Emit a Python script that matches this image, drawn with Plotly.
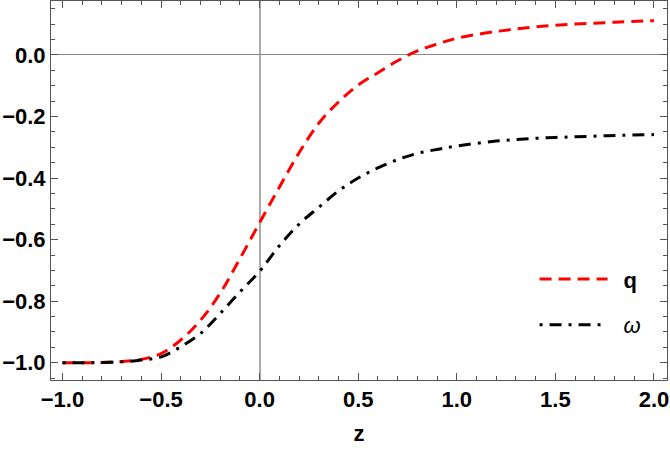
import plotly.graph_objects as go

# values
z = [-1.0, -0.9, -0.8, -0.7, -0.6, -0.5, -0.4, -0.3, -0.2, -0.1, 0.0, 0.1, 0.2,
     0.3, 0.4, 0.5, 0.6, 0.7, 0.8, 0.9, 1.0, 1.2, 1.4, 1.6, 1.8, 2.0]
q = [-1.000, -1.000, -0.999, -0.996, -0.989, -0.970, -0.926, -0.862, -0.774,
     -0.662, -0.545, -0.430, -0.318, -0.222, -0.153, -0.098, -0.058, -0.019,
     0.013, 0.035, 0.054, 0.076, 0.091, 0.100, 0.106, 0.111]
w = [-1.000, -1.000, -0.999, -0.997, -0.991, -0.981, -0.948, -0.905, -0.840,
     -0.770, -0.703, -0.620, -0.550, -0.495, -0.442, -0.400, -0.367, -0.340,
     -0.320, -0.307, -0.296, -0.280, -0.271, -0.266, -0.262, -0.259]

fig = go.Figure()

fig.add_trace(go.Scatter(
    x=z, y=q, mode="lines", name="\u2002<b>q</b>", legendgroup="q",
    line=dict(color="#ff0000", width=3, dash="12px,7px", shape="spline"),
))
fig.add_trace(go.Scatter(
    x=z, y=w, mode="lines", name="\u2002<i>ω</i>", legendgroup="w",
    line=dict(color="#000000", width=3, dash="3px,7px,12px,7px", shape="spline"),
))

frame = dict(
    showline=True, linecolor="#555555", linewidth=1, mirror="allticks",
    ticks="inside", ticklen=7, tickcolor="#555555", tickwidth=1,
    showgrid=False, automargin=False,
    tickfont=dict(family="Liberation Sans", size=22, color="black", weight="bold"),
)

fig.update_xaxes(
    range=[-1.058, 2.066], tick0=-1, dtick=0.5, tickformat=".1f",
    zeroline=True, zerolinecolor="#aaaaaa", zerolinewidth=1.5,
    minor=dict(ticks="inside", ticklen=4, dtick=0.1, tickcolor="#555555"),
    title=dict(text="<b>z</b>", font=dict(family="Liberation Sans", size=22, color="black"),
               standoff=14),
    **frame,
)
fig.update_yaxes(
    range=[-1.056, 0.175], tick0=0, dtick=0.2, tickformat=".1f",
    zeroline=True, zerolinecolor="#888888", zerolinewidth=1,
    minor=dict(ticks="inside", ticklen=4, dtick=0.05, tickcolor="#555555"),
    **frame,
)

fig.update_layout(
    width=670, height=449,
    margin=dict(l=51, r=3, t=1, b=69),
    plot_bgcolor="white", paper_bgcolor="white",
    legend=dict(x=0.785, y=0.205, xanchor="left", yanchor="middle",
                bgcolor="rgba(0,0,0,0)", tracegroupgap=14, itemwidth=68,
                font=dict(family="Liberation Sans", size=22, color="black")),
)

# drop the browser's default page margin so the figure fills the window
fig.write_html("out.html", config={"displayModeBar": False},
               post_script="document.body.style.margin='0';")
